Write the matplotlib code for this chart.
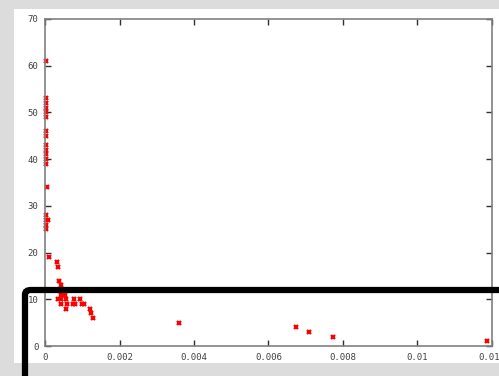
import matplotlib
matplotlib.use('Agg')
import matplotlib.pyplot as plt
from matplotlib.patches import Rectangle, FancyBboxPatch

# --- data (x = ratio, y = count) ---
x_vals = [0.00002, 0.00002, 0.00002, 0.00002, 0.00002, 0.00002,
          0.00002, 0.00002, 0.00002, 0.00002, 0.00002, 0.00002, 0.00002,
          0.00005, 0.00002, 0.00002, 0.00006, 0.00003, 0.00002,
          0.0001, 0.00031, 0.00033, 0.00037, 0.00041, 0.00043, 0.00052,
          0.00034, 0.00043, 0.00056, 0.00077, 0.00094,
          0.00043, 0.00057, 0.00075, 0.00079, 0.00098, 0.00103,
          0.00056, 0.00121, 0.00124, 0.00128,
          0.0036, 0.00675, 0.0071, 0.00774, 0.01188]
y_vals = [61, 53, 52, 51, 50, 49,
          46, 45, 43, 42, 41, 40, 39,
          34, 28, 27, 27, 26, 25,
          19, 18, 17, 14, 13, 11, 11,
          10, 10, 10, 10, 10,
          9, 9, 9, 9, 9, 9,
          8, 8, 7, 6,
          5, 4, 3, 2, 1]
x_ticks = [0, 0.002, 0.004, 0.006, 0.008, 0.01, 0.012]
x_ticklabels = ['0', '0.002', '0.004', '0.006', '0.008', '0.01', '0.012']
y_ticks = [0, 10, 20, 30, 40, 50, 60, 70]

W, H = 499, 376
fig = plt.figure(figsize=(W / 100, H / 100), dpi=100, facecolor='#dcdcdc')

# white panel behind the plot
fig.patches.append(Rectangle((14 / W, 1 - 363 / H), 1, (363 - 9) / H,
                             transform=fig.transFigure, facecolor='white',
                             edgecolor='none', zorder=-2))
# bottom grey strip
fig.patches.append(Rectangle((0, 0), 1, (376 - 363) / H,
                             transform=fig.transFigure, facecolor='#dcdcdc',
                             edgecolor='none', zorder=-1))

ax = fig.add_axes([45.3 / W, 1 - 346 / H, (491.7 - 45.3) / W, (346 - 19) / H])
ax.set_zorder(2)
ax.set_facecolor('white')
ax.plot(x_vals, y_vals, linestyle='none', marker='x', color='red',
        markersize=3.5, markeredgewidth=1.6, clip_on=False)

ax.set_xlim(0, 0.012)
ax.set_ylim(0, 70)
ax.set_xticks(x_ticks)
ax.set_xticklabels(x_ticklabels)
ax.set_yticks(y_ticks)
for s in ax.spines.values():
    s.set_color('#808080')
    s.set_linewidth(1.2)
ax.tick_params(direction='in', length=4, width=1, color='#303030',
               top=True, right=True, labelsize=6.5, labelcolor='#404040',
               pad=5)
for lab in ax.get_xticklabels() + ax.get_yticklabels():
    lab.set_family('DejaVu Sans Mono')

# black highlight box
box = FancyBboxPatch((25 / W, -40 / H), 520 / W, (376 - 290 + 40) / H,
                     boxstyle='round,pad=0,rounding_size=0.012',
                     transform=fig.transFigure, facecolor='none',
                     edgecolor='black', linewidth=4.5, zorder=5)
fig.patches.append(box)

fig.savefig('out.png', dpi=100, facecolor=fig.get_facecolor())
